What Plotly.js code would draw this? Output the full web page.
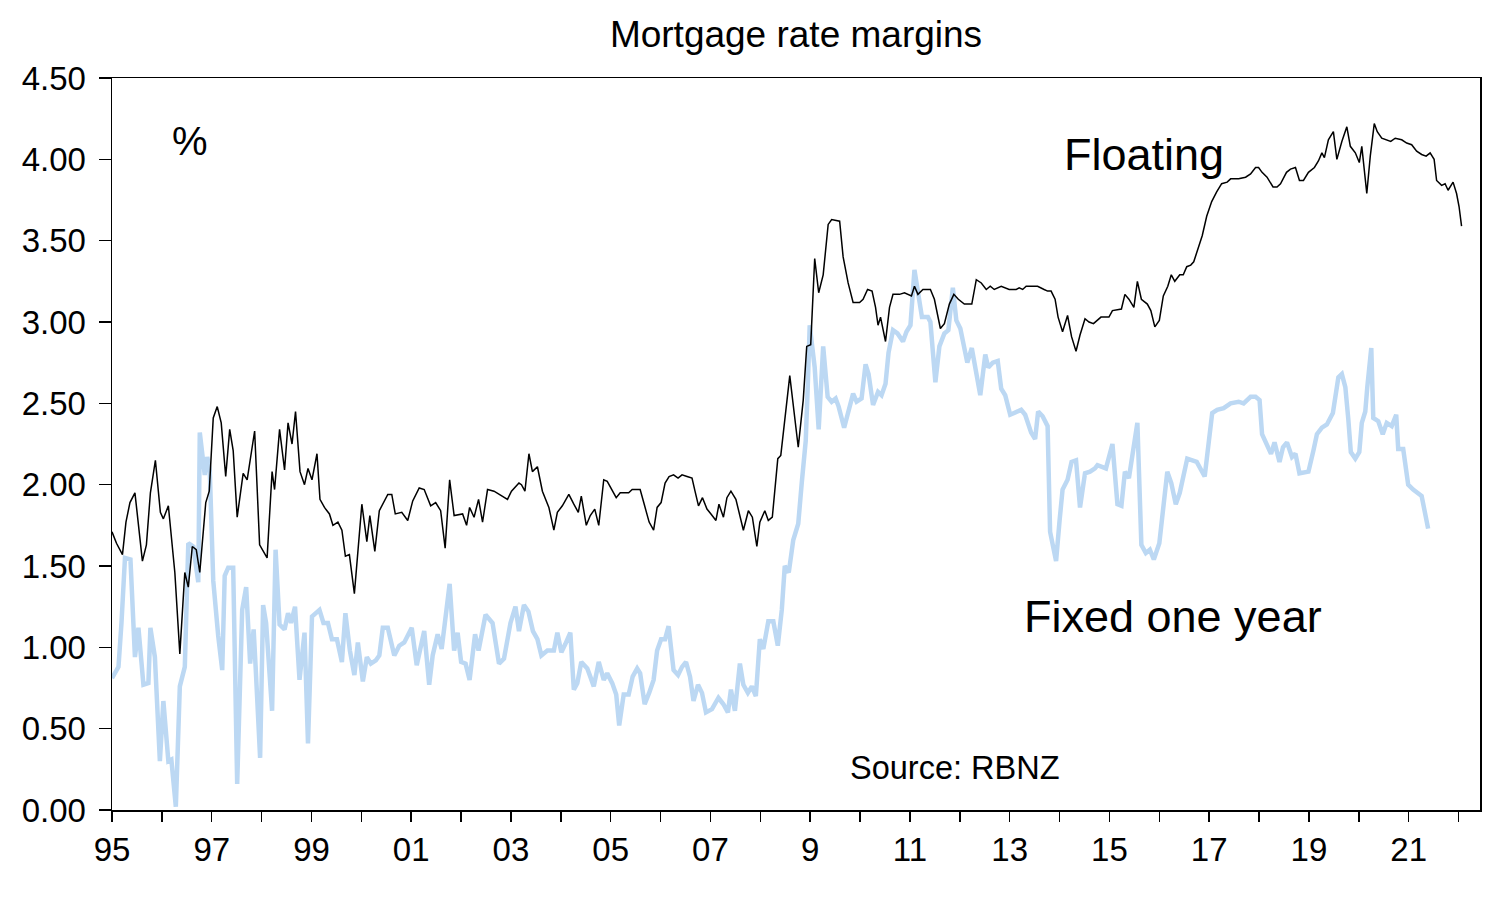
<!DOCTYPE html>
<html>
<head>
<meta charset="utf-8">
<script src="https://cdn.plot.ly/plotly-3.0.1.min.js"></script>
<style>html,body{margin:0;padding:0;background:#fff;}#chart{width:1508px;height:920px;}</style>
</head>
<body>
<div id="chart"></div>
<script>
// Floating mortgage rate margin (%), dates as decimal years
var floatDates = [1995.00,1995.09,1995.21,1995.28,1995.36,1995.46,1995.61,1995.69,1995.77,1995.87,1995.97,1996.03,1996.13,1996.26,1996.36,1996.46,1996.53,1996.61,1996.69,1996.76,1996.88,1996.95,1997.03,1997.11,1997.19,1997.28,1997.36,1997.43,1997.51,1997.63,1997.71,1997.86,1997.96,1998.11,1998.21,1998.26,1998.36,1998.46,1998.53,1998.61,1998.68,1998.77,1998.86,1998.93,1999.01,1999.11,1999.17,1999.26,1999.36,1999.43,1999.53,1999.61,1999.68,1999.76,1999.86,1999.95,2000.01,2000.11,2000.17,2000.27,2000.36,2000.53,2000.61,2000.68,2000.81,2000.93,2001.03,2001.16,2001.26,2001.39,2001.49,2001.59,2001.68,2001.77,2001.86,2002.03,2002.11,2002.17,2002.26,2002.35,2002.43,2002.53,2002.66,2002.93,2003.01,2003.16,2003.21,2003.28,2003.36,2003.43,2003.53,2003.63,2003.76,2003.86,2003.93,2004.03,2004.16,2004.26,2004.35,2004.41,2004.51,2004.59,2004.68,2004.76,2004.86,2004.93,2005.11,2005.19,2005.36,2005.43,2005.59,2005.68,2005.77,2005.86,2005.93,2006.01,2006.09,2006.17,2006.26,2006.35,2006.43,2006.53,2006.63,2006.69,2006.76,2006.84,2006.93,2007.01,2007.11,2007.17,2007.26,2007.33,2007.41,2007.51,2007.59,2007.66,2007.76,2007.84,2007.93,2007.99,2008.09,2008.16,2008.24,2008.35,2008.41,2008.59,2008.76,2008.86,2008.93,2009.01,2009.09,2009.17,2009.26,2009.36,2009.43,2009.59,2009.66,2009.76,2009.86,2009.99,2010.06,2010.15,2010.24,2010.31,2010.36,2010.41,2010.51,2010.59,2010.66,2010.79,2010.89,2011.03,2011.09,2011.16,2011.26,2011.41,2011.49,2011.61,2011.69,2011.79,2011.88,2011.97,2012.09,2012.24,2012.33,2012.43,2012.53,2012.61,2012.69,2012.76,2012.83,2012.99,2013.13,2013.19,2013.26,2013.33,2013.56,2013.69,2013.76,2013.83,2013.91,2013.97,2014.06,2014.16,2014.24,2014.33,2014.41,2014.51,2014.59,2014.68,2014.76,2014.83,2014.99,2015.06,2015.24,2015.31,2015.39,2015.49,2015.56,2015.64,2015.76,2015.83,2015.91,2016.00,2016.08,2016.17,2016.24,2016.31,2016.41,2016.48,2016.55,2016.63,2016.69,2016.76,2016.86,2016.95,2017.05,2017.15,2017.25,2017.36,2017.43,2017.49,2017.59,2017.73,2017.83,2017.93,2017.99,2018.06,2018.16,2018.28,2018.36,2018.43,2018.55,2018.63,2018.73,2018.81,2018.89,2018.99,2019.11,2019.19,2019.26,2019.31,2019.39,2019.49,2019.56,2019.66,2019.76,2019.83,2019.93,2020.01,2020.06,2020.16,2020.23,2020.31,2020.37,2020.46,2020.56,2020.64,2020.73,2020.86,2020.96,2021.06,2021.16,2021.26,2021.35,2021.43,2021.51,2021.56,2021.66,2021.73,2021.79,2021.89,2021.96,2022.01,2022.06];
var floatValues = [1.71,1.64,1.57,1.77,1.89,1.95,1.53,1.63,1.95,2.15,1.83,1.79,1.87,1.46,0.96,1.46,1.37,1.62,1.60,1.46,1.89,1.96,2.41,2.48,2.38,2.05,2.34,2.21,1.80,2.07,2.03,2.33,1.63,1.55,2.08,1.97,2.34,2.09,2.38,2.25,2.45,2.08,2.00,2.10,2.03,2.19,1.91,1.86,1.82,1.75,1.77,1.72,1.56,1.57,1.33,1.64,1.88,1.65,1.81,1.59,1.84,1.94,1.94,1.82,1.83,1.78,1.90,1.98,1.97,1.87,1.89,1.84,1.61,2.03,1.81,1.82,1.75,1.86,1.80,1.91,1.77,1.97,1.96,1.91,1.96,2.01,2.00,1.96,2.19,2.08,2.11,1.96,1.86,1.72,1.83,1.87,1.94,1.88,1.83,1.93,1.75,1.81,1.85,1.75,2.03,2.02,1.92,1.95,1.95,1.97,1.97,1.87,1.77,1.72,1.86,1.89,2.01,2.05,2.06,2.04,2.06,2.05,2.04,1.96,1.87,1.92,1.85,1.82,1.78,1.88,1.80,1.92,1.96,1.91,1.80,1.72,1.84,1.80,1.62,1.77,1.84,1.78,1.80,2.16,2.18,2.67,2.23,2.52,2.85,2.86,3.39,3.18,3.29,3.60,3.63,3.62,3.40,3.24,3.12,3.12,3.14,3.20,3.19,3.09,2.98,3.03,2.88,3.09,3.17,3.17,3.18,3.16,3.22,3.17,3.20,3.20,3.14,2.96,2.99,3.11,3.17,3.14,3.11,3.11,3.26,3.24,3.20,3.22,3.20,3.21,3.22,3.20,3.20,3.21,3.20,3.22,3.22,3.20,3.19,3.19,3.14,3.03,2.94,3.04,2.91,2.82,2.92,3.02,3.00,2.99,3.01,3.03,3.03,3.07,3.08,3.17,3.14,3.09,3.25,3.14,3.11,3.07,2.97,3.01,3.16,3.22,3.29,3.25,3.29,3.29,3.34,3.35,3.37,3.44,3.53,3.65,3.74,3.80,3.85,3.86,3.88,3.88,3.88,3.89,3.91,3.95,3.95,3.92,3.89,3.83,3.83,3.85,3.92,3.94,3.95,3.87,3.87,3.92,3.95,3.99,4.04,4.01,4.12,4.17,4.00,4.11,4.20,4.08,4.04,3.98,4.08,3.79,4.02,4.22,4.17,4.13,4.12,4.11,4.13,4.12,4.10,4.09,4.05,4.03,4.02,4.04,4.00,3.87,3.84,3.85,3.81,3.86,3.79,3.71,3.59];

// Fixed one-year mortgage rate margin (%)
var fixedDates = [1995.00,1995.13,1995.19,1995.26,1995.37,1995.46,1995.53,1995.57,1995.63,1995.73,1995.77,1995.86,1995.96,1996.03,1996.13,1996.19,1996.28,1996.36,1996.46,1996.53,1996.63,1996.73,1996.76,1996.86,1996.91,1996.96,1997.03,1997.13,1997.21,1997.26,1997.33,1997.43,1997.51,1997.61,1997.69,1997.77,1997.84,1997.88,1997.97,1998.03,1998.09,1998.21,1998.28,1998.36,1998.46,1998.53,1998.59,1998.67,1998.76,1998.86,1998.93,1999.01,1999.16,1999.24,1999.33,1999.41,1999.51,1999.61,1999.68,1999.77,1999.86,1999.93,2000.03,2000.11,2000.19,2000.29,2000.36,2000.43,2000.53,2000.66,2000.76,2000.86,2001.01,2001.11,2001.19,2001.26,2001.36,2001.43,2001.53,2001.61,2001.77,2001.86,2001.93,2002.00,2002.09,2002.17,2002.28,2002.35,2002.49,2002.63,2002.76,2002.86,2002.99,2003.09,2003.16,2003.26,2003.35,2003.44,2003.53,2003.61,2003.73,2003.86,2003.93,2004.01,2004.09,2004.19,2004.26,2004.33,2004.41,2004.53,2004.59,2004.66,2004.76,2004.86,2004.93,2005.03,2005.11,2005.17,2005.26,2005.36,2005.44,2005.53,2005.59,2005.68,2005.77,2005.86,2005.93,2006.01,2006.09,2006.16,2006.26,2006.35,2006.43,2006.51,2006.59,2006.66,2006.75,2006.83,2006.91,2007.03,2007.16,2007.26,2007.35,2007.41,2007.49,2007.59,2007.66,2007.75,2007.83,2007.91,2007.99,2008.06,2008.16,2008.26,2008.35,2008.43,2008.49,2008.57,2008.66,2008.76,2008.83,2008.91,2008.95,2008.99,2009.04,2009.09,2009.17,2009.26,2009.35,2009.43,2009.51,2009.57,2009.68,2009.76,2009.86,2009.93,2010.03,2010.11,2010.17,2010.26,2010.36,2010.43,2010.51,2010.57,2010.66,2010.75,2010.86,2010.93,2011.01,2011.09,2011.16,2011.24,2011.36,2011.41,2011.51,2011.59,2011.69,2011.77,2011.86,2011.93,2012.01,2012.15,2012.24,2012.33,2012.41,2012.51,2012.57,2012.66,2012.76,2012.83,2012.91,2013.01,2013.13,2013.23,2013.31,2013.43,2013.51,2013.57,2013.66,2013.76,2013.81,2013.93,2014.00,2014.06,2014.16,2014.24,2014.33,2014.41,2014.51,2014.61,2014.71,2014.76,2014.93,2015.06,2015.16,2015.24,2015.31,2015.39,2015.56,2015.64,2015.73,2015.81,2015.89,2016.00,2016.16,2016.24,2016.33,2016.41,2016.56,2016.75,2016.91,2017.06,2017.16,2017.29,2017.43,2017.59,2017.69,2017.83,2017.93,2018.01,2018.06,2018.16,2018.24,2018.31,2018.41,2018.48,2018.56,2018.66,2018.73,2018.81,2018.99,2019.09,2019.16,2019.26,2019.36,2019.48,2019.53,2019.59,2019.66,2019.73,2019.79,2019.84,2019.93,2020.01,2020.06,2020.13,2020.17,2020.25,2020.29,2020.39,2020.48,2020.56,2020.66,2020.75,2020.79,2020.89,2020.99,2021.09,2021.26,2021.39];
var fixedValues = [0.81,0.88,1.15,1.55,1.54,0.94,1.12,0.96,0.77,0.78,1.12,0.94,0.30,0.67,0.30,0.31,0.02,0.76,0.88,1.64,1.62,1.40,2.32,2.06,2.17,2.09,1.41,1.07,0.86,1.44,1.49,1.49,0.16,1.23,1.37,0.90,1.11,0.88,0.32,1.26,1.15,0.61,1.60,1.14,1.11,1.21,1.15,1.25,0.80,1.09,0.41,1.19,1.23,1.15,1.15,1.05,1.05,0.91,1.21,0.98,0.83,1.03,0.79,0.94,0.90,0.92,0.95,1.12,1.12,0.95,1.01,1.03,1.12,0.89,0.99,1.10,0.77,0.95,1.08,0.99,1.39,0.98,1.09,0.91,0.90,0.80,1.08,0.98,1.20,1.15,0.90,0.93,1.15,1.25,1.10,1.26,1.22,1.10,1.05,0.95,0.98,0.98,1.09,0.97,1.02,1.09,0.74,0.78,0.91,0.87,0.82,0.76,0.91,0.80,0.84,0.78,0.71,0.52,0.71,0.71,0.82,0.87,0.84,0.65,0.72,0.80,0.98,1.05,1.05,1.13,0.86,0.83,0.88,0.91,0.82,0.67,0.77,0.72,0.60,0.62,0.69,0.65,0.60,0.74,0.61,0.90,0.77,0.72,0.76,0.70,1.05,0.99,1.16,1.16,1.01,1.23,1.50,1.46,1.66,1.76,2.01,2.27,2.60,2.98,2.85,2.72,2.34,2.85,2.54,2.51,2.53,2.48,2.35,2.45,2.56,2.51,2.53,2.74,2.68,2.49,2.57,2.55,2.62,2.81,2.95,2.93,2.88,2.94,2.98,3.32,3.20,3.03,3.03,3.00,2.63,2.85,2.93,2.95,3.21,3.01,2.96,2.75,2.84,2.70,2.55,2.80,2.72,2.75,2.76,2.59,2.55,2.43,2.45,2.46,2.43,2.32,2.28,2.45,2.42,2.36,1.71,1.53,1.78,1.97,2.03,2.14,2.15,1.86,2.07,2.08,2.10,2.12,2.10,2.25,1.88,1.87,2.08,2.04,2.38,1.63,1.58,1.60,1.54,1.64,2.08,2.01,1.88,1.95,2.16,2.14,2.05,2.44,2.46,2.47,2.50,2.51,2.50,2.54,2.54,2.52,2.31,2.25,2.19,2.26,2.14,2.23,2.26,2.17,2.19,2.07,2.08,2.21,2.31,2.35,2.37,2.44,2.56,2.66,2.68,2.60,2.40,2.20,2.16,2.20,2.38,2.45,2.60,2.84,2.41,2.39,2.31,2.38,2.36,2.43,2.22,2.22,2.00,1.97,1.93,1.73];

// Axis ticks
var xTickVals = [1995,1996,1997,1998,1999,2000,2001,2002,2003,2004,2005,2006,2007,2008,2009,2010,2011,2012,2013,2014,2015,2016,2017,2018,2019,2020,2021,2022];
var xTickText = ['95','','97','','99','','01','','03','','05','','07','','9','','11','','13','','15','','17','','19','','21',''];
var yTickVals = [0,0.5,1,1.5,2,2.5,3,3.5,4,4.5];
var yTickText = ['0.00','0.50','1.00','1.50','2.00','2.50','3.00','3.50','4.00','4.50'];

var FONT = 'Liberation Sans, Arial, sans-serif';

var traces = [
  {x: fixedDates, y: fixedValues, type: 'scatter', mode: 'lines', name: 'Fixed one year',
   line: {color: '#bcd8f3', width: 4.5}, hoverinfo: 'x+y'},
  {x: floatDates, y: floatValues, type: 'scatter', mode: 'lines', name: 'Floating',
   line: {color: '#000000', width: 1.5}, hoverinfo: 'x+y'}
];

var layout = {
  width: 1508, height: 920,
  margin: {l: 112, r: 28, t: 78, b: 110},
  paper_bgcolor: '#ffffff', plot_bgcolor: '#ffffff',
  showlegend: false,
  font: {family: FONT, color: '#000', size: 33},
  title: {text: 'Mortgage rate margins', x: 0.5, xanchor: 'center', xref: 'paper',
          y: 0.963, yref: 'container', yanchor: 'middle',
          font: {family: FONT, size: 37, color: '#000'}},
  xaxis: {
    range: [1995, 2022.43], showgrid: false, zeroline: false,
    tickmode: 'array', tickvals: xTickVals, ticktext: xTickText,
    ticks: 'outside', ticklen: 10, tickwidth: 1.5, tickcolor: '#000',
    showline: true, linecolor: '#000', linewidth: 1.5, mirror: true,
    tickfont: {family: FONT, size: 33, color: '#000'}
  },
  yaxis: {
    range: [0, 4.5], showgrid: false, zeroline: false,
    tickmode: 'array', tickvals: yTickVals, ticktext: yTickText,
    ticks: 'outside', ticklen: 12, tickwidth: 1.5, tickcolor: '#000',
    showline: true, linecolor: '#000', linewidth: 1.5, mirror: true,
    ticklabelstandoff: 6,
    tickfont: {family: FONT, size: 33, color: '#000'}
  },
  annotations: [
    {x: 1996.16, y: 4.11, xref: 'x', yref: 'y', text: '%', showarrow: false,
     xanchor: 'left', yanchor: 'middle', font: {family: FONT, size: 40, color: '#000'}},
    {x: 2014.04, y: 4.03, xref: 'x', yref: 'y', text: 'Floating', showarrow: false,
     xanchor: 'left', yanchor: 'middle', font: {family: FONT, size: 45, color: '#000'}},
    {x: 2013.24, y: 1.19, xref: 'x', yref: 'y', text: 'Fixed one year', showarrow: false,
     xanchor: 'left', yanchor: 'middle', font: {family: FONT, size: 45, color: '#000'}},
    {x: 2009.75, y: 0.26, xref: 'x', yref: 'y', text: 'Source: RBNZ', showarrow: false,
     xanchor: 'left', yanchor: 'middle', font: {family: FONT, size: 32.5, color: '#000'}}
  ]
};

Plotly.newPlot('chart', traces, layout, {displayModeBar: false, staticPlot: true});
</script>
</body>
</html>
